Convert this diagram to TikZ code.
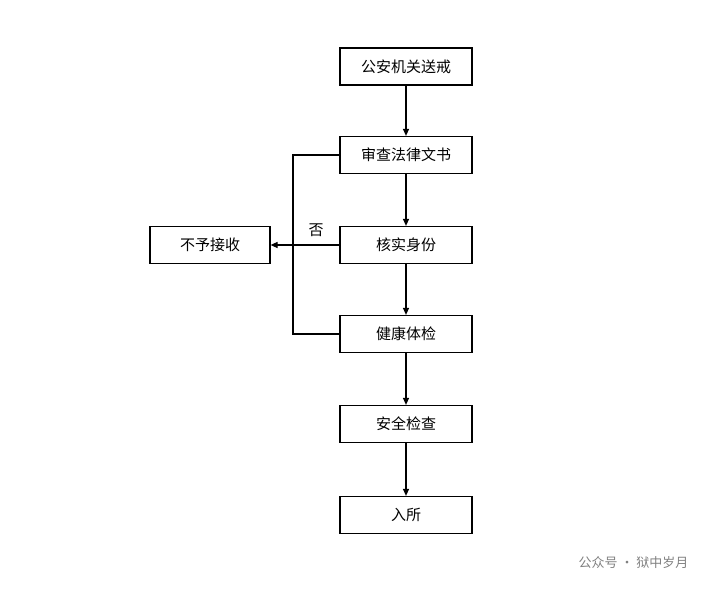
\documentclass[tikz,border=0pt]{standalone}
\usepackage{fontspec}
\setmainfont{Noto Sans CJK SC}
\usetikzlibrary{arrows.meta}
\begin{document}
\begin{tikzpicture}[x=1pt,y=-1pt,
  box/.style={draw,line width=1.2pt,minimum width=132pt,minimum height=37pt,inner sep=0pt,font=\fontsize{15}{17}\selectfont},
  arr/.style={-{Triangle[length=7pt,width=6pt]},line width=1.2pt},
  ln/.style={line width=1.2pt}]
\useasboundingbox (0,0) rectangle (715,591);
\node[box] (a) at (406,66.5) {公安机关送戒};
\node[box] (b) at (406,155) {审查法律文书};
\node[box] (c) at (406,245) {核实身份};
\node[box] (d) at (406,334) {健康体检};
\node[box] (e) at (406,424) {安全检查};
\node[box] (f) at (406,515) {入所};
\node[box,minimum width=120pt] (g) at (210,245) {不予接收};
\draw[arr] (a) -- (b);
\draw[arr] (b) -- (c);
\draw[arr] (c) -- (d);
\draw[arr] (d) -- (e);
\draw[arr] (e) -- (f);
\coordinate (t) at (293,155);
\coordinate (u) at (293,334);
\draw[ln] (b.west) -- (t) -- (u) -- (d.west);
\draw[arr] (c.west) -- (g.east);
\node[font=\fontsize{15}{17}\selectfont] (no) at (316,230) {否};
\node[font=\fontsize{13}{15}\selectfont,text=gray,anchor=east] (wm) at (692,563) {公众号 · 狱中岁月};
\end{tikzpicture}
\end{document}
